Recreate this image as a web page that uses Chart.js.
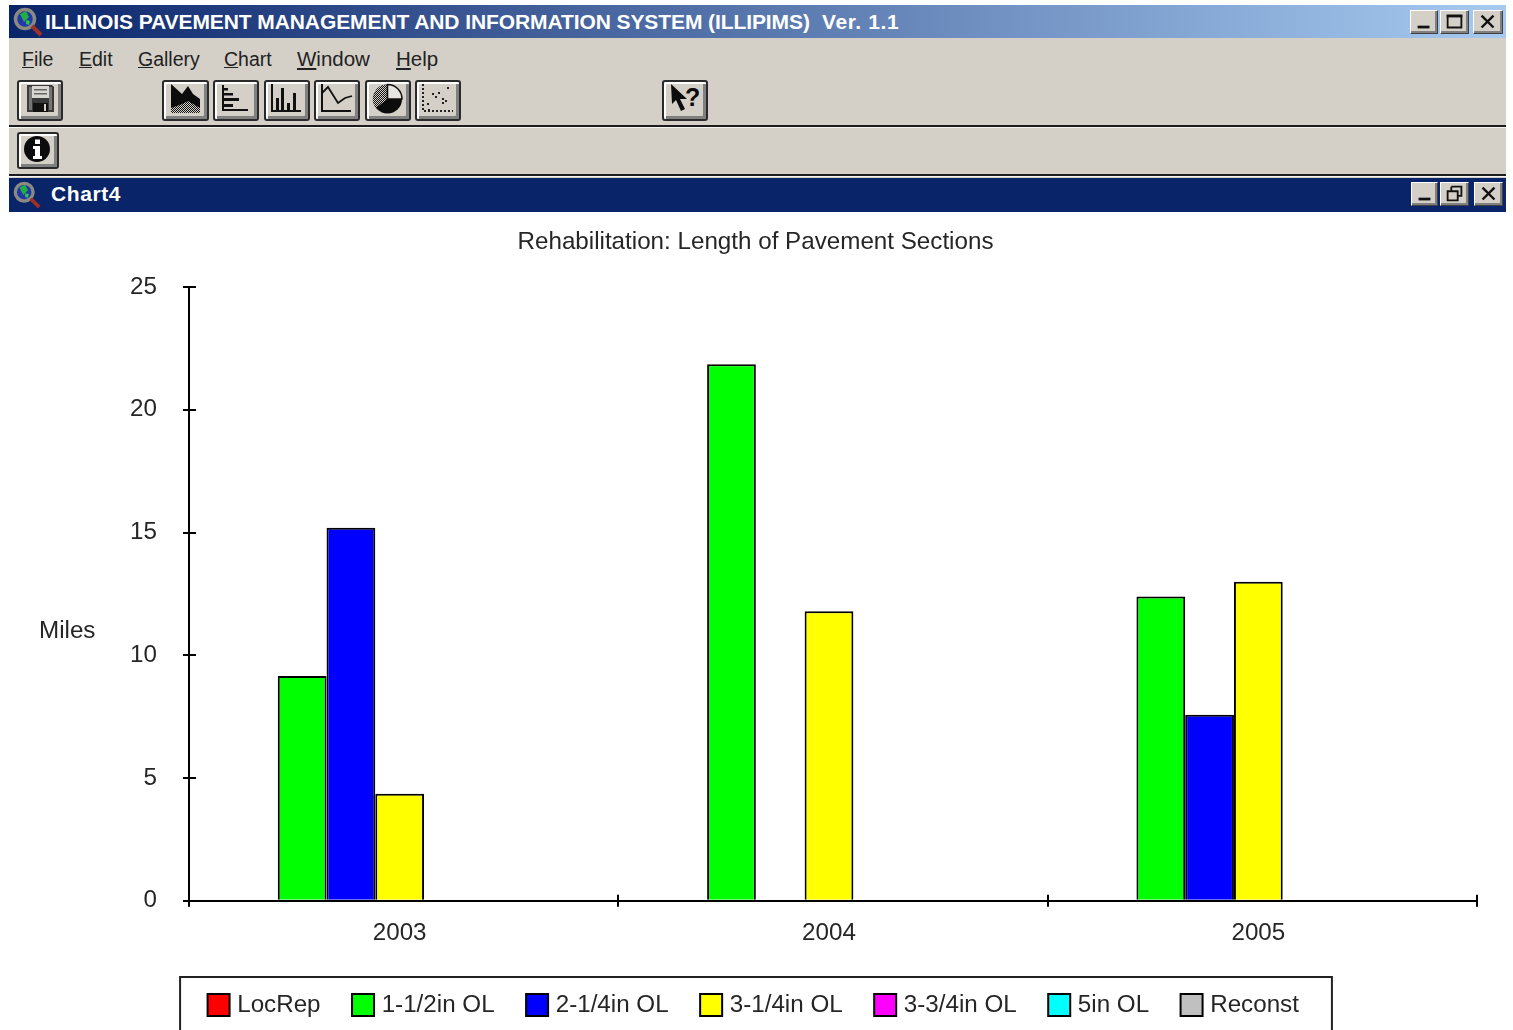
<!DOCTYPE html>
<html>
<head>
<meta charset="utf-8">
<title>ILLIPIMS Chart4</title>
<script src="https://cdn.jsdelivr.net/npm/chart.js@4"></script>
<style>
  html, body { margin: 0; padding: 0; background: #fff; width: 1513px; height: 1030px; overflow: hidden; }
  body { position: relative; font-family: "Liberation Sans", Arial, sans-serif; }
  .abs { position: absolute; }
  .titlebar { left: 9px; top: 5px; width: 1497px; height: 33px; background: linear-gradient(90deg, #0a246a 0%, #a6caf0 100%); }
  .chrome { left: 9px; top: 38px; width: 1497px; height: 140px; background: #d4d0c8; }
  .rule { left: 9px; width: 1497px; height: 2px; background: #1c1c1c; border-bottom: 1px solid #f4f3f0; }
  .childbar { left: 9px; top: 178px; width: 1497px; height: 34px; background: #0a246a; }
  .caption { color: #fff; font-weight: bold; white-space: nowrap; }
  .menu { top: 47px; font-size: 19.5px; color: #222; line-height: 24px; }
  .btn { box-sizing: border-box; background: #d4d0c8; border: 2px solid #2a2a2a; border-radius: 3px;
         box-shadow: inset 2px 2px 0 #fff, inset -3px -3px 0 #808080; }
  .wbtn { box-sizing: border-box; background: #d4d0c8; border: 1px solid #404040; border-top-color: #fff; border-left-color: #fff;
          box-shadow: inset -2px -2px 0 #808080; }
  svg { position: absolute; left: 0; top: 0; width: 100%; height: 100%; }
  #plotWrap { left: 9px; top: 212px; width: 1493px; height: 818px; }
</style>
</head>
<body>
<div class="abs titlebar"></div>
<div class="abs chrome"></div>
<div class="abs rule" style="top:125px"></div>
<div class="abs rule" style="top:174px"></div>
<div class="abs childbar"></div>

<!-- shared dither pattern for the toolbar glyphs -->
<svg width="0" height="0" style="width:0;height:0"><defs><pattern id="dither" width="2" height="2" patternUnits="userSpaceOnUse"><rect width="2" height="2" fill="#d4d0c8"/><rect width="1" height="1" fill="#111"/><rect x="1" y="1" width="1" height="1" fill="#111"/></pattern></defs></svg>

<!-- application icons -->
<svg class="abs" style="left:12px;top:7px;width:32px;height:30px" viewBox="0 0 32 30"><circle cx="13" cy="12" r="9.5" fill="#2038a8" stroke="#8a8a80" stroke-width="3.5"/><path d="M8 7l6-3 3 6-5 5z" fill="#20b040"/><path d="M14 13l4 1-1 4-3-1z" fill="#30c050"/><path d="M20 19l9 9" stroke="#a03028" stroke-width="4"/></svg>
<svg class="abs" style="left:12px;top:180px;width:30px;height:30px" viewBox="0 0 32 30"><circle cx="13" cy="12" r="9.5" fill="#2038a8" stroke="#8a8a80" stroke-width="3.5"/><path d="M8 7l6-3 3 6-5 5z" fill="#20b040"/><path d="M14 13l4 1-1 4-3-1z" fill="#30c050"/><path d="M20 19l9 9" stroke="#a03028" stroke-width="4"/></svg>

<div class="abs caption" style="left:45px;top:9px;font-size:21px;line-height:26px;letter-spacing:-0.09px">ILLINOIS PAVEMENT MANAGEMENT AND INFORMATION SYSTEM (ILLIPIMS)</div>
<div class="abs caption" style="left:822px;top:9px;font-size:21px;line-height:26px;letter-spacing:0.6px">Ver. 1.1</div>
<div class="abs caption" style="left:51px;top:181px;font-size:21px;line-height:26px;letter-spacing:0.6px">Chart4</div>

<div class="abs menu" style="left:22px"><u>F</u>ile</div>
<div class="abs menu" style="left:79px"><u>E</u>dit</div>
<div class="abs menu" style="left:138px"><u>G</u>allery</div>
<div class="abs menu" style="left:224px"><u>C</u>hart</div>
<div class="abs menu" style="left:297px;font-size:20.5px"><u>W</u>indow</div>
<div class="abs menu" style="left:396px;font-size:20.5px"><u>H</u>elp</div>

<!-- toolbar buttons -->
<div class="abs btn" style="left:17px;top:80px;width:46px;height:41px"><svg viewBox="0 0 42 37"><path d="M8 3h25l2 2v25H8z" fill="#3a3a3a"/><rect x="10" y="5" width="3" height="23" fill="#777"/><rect x="30" y="5" width="3" height="23" fill="#777"/><rect x="13" y="4" width="17" height="12" fill="#d8d6d0"/><rect x="15" y="7" width="13" height="1.5" fill="#666"/><rect x="15" y="11" width="13" height="1.5" fill="#666"/><rect x="14" y="21" width="15" height="9" fill="#111"/><rect x="25" y="22" width="2" height="7" fill="#d4d0c8"/></svg></div>
<div class="abs btn" style="left:162px;top:80px;width:47px;height:41px"><svg viewBox="0 0 43 37"><path d="M7 2l11 10 6-8 5 8 7 5v14H7z" fill="#0c0c0c"/><path d="M7 26l11-4 6-3 12 7v5H7z" fill="url(#dither)"/></svg></div>
<div class="abs btn" style="left:213px;top:80px;width:46px;height:41px"><svg viewBox="0 0 42 37"><path d="M8 3v25h25" fill="none" stroke="#111" stroke-width="2"/><g fill="#111"><rect x="8" y="6" width="5" height="2.5"/><rect x="8" y="11" width="10" height="2.5"/><rect x="8" y="16" width="16" height="3"/><rect x="8" y="22" width="10" height="3"/></g></svg></div>
<div class="abs btn" style="left:264px;top:80px;width:46px;height:41px"><svg viewBox="0 0 42 37"><path d="M6 2v27h29" fill="none" stroke="#111" stroke-width="2"/><g fill="#111"><rect x="10" y="16" width="3" height="13"/><rect x="15" y="6" width="3" height="23"/><rect x="21" y="21" width="3" height="8"/><rect x="27" y="11" width="3" height="18"/></g></svg></div>
<div class="abs btn" style="left:314px;top:80px;width:46px;height:41px"><svg viewBox="0 0 42 37"><path d="M6 2v27h29" fill="none" stroke="#111" stroke-width="2"/><path d="M6 11l6-6 10 16 7-5 7-2" fill="none" stroke="#111" stroke-width="1.8"/></svg></div>
<div class="abs btn" style="left:365px;top:80px;width:46px;height:41px"><svg viewBox="0 0 42 37"><circle cx="20.5" cy="17" r="14.5" fill="#0c0c0c"/><path d="M20.5 17V2.5A14.5 14.5 0 0 0 9 26z" fill="url(#dither)"/><path d="M20.5 17V2.5A14.5 14.5 0 0 1 35 17z" fill="#e8e6e0" stroke="#111" stroke-width="1.5"/></svg></div>
<div class="abs btn" style="left:415px;top:80px;width:46px;height:41px"><svg viewBox="0 0 42 37"><path d="M6 2v27h30" fill="none" stroke="#222" stroke-width="2" stroke-dasharray="2 2"/><g fill="#222"><rect x="21" y="10" width="2" height="2"/><rect x="30" y="5" width="2" height="2"/><rect x="15" y="11" width="2" height="2"/><rect x="18" y="14" width="2" height="2"/><rect x="25" y="16" width="2" height="2"/><rect x="28" y="18" width="2" height="2"/><rect x="25" y="20" width="2" height="2"/><rect x="10" y="21" width="2" height="2"/><rect x="11" y="27" width="2" height="2"/></g></svg></div>
<div class="abs btn" style="left:662px;top:80px;width:46px;height:41px"><svg viewBox="0 0 42 37"><path d="M7 2l1 20 4-4 5 11 4-2-5-10h7z" fill="#0c0c0c"/><text x="21" y="24" font-family="Liberation Sans" font-weight="bold" font-size="25" fill="#0c0c0c">?</text></svg></div>
<div class="abs btn" style="left:17px;top:132px;width:42px;height:37px"><svg viewBox="0 0 38 33"><circle cx="18" cy="15" r="13" fill="#0c0c0c"/><path d="M14 12h7v10h2v3h-9v-3h2v-7h-2z" fill="#fff"/><rect x="16" y="5.5" width="5" height="4.5" fill="#fff"/></svg></div>

<!-- window controls -->
<div class="abs wbtn" style="left:1410px;top:10px;width:28px;height:24px"><svg viewBox="0 0 28 24"><rect x="7" y="16" width="13" height="3" fill="#111"/></svg></div>
<div class="abs wbtn" style="left:1440px;top:10px;width:29px;height:24px"><svg viewBox="0 0 29 24"><path d="M7 5h15v13H7z" fill="none" stroke="#111" stroke-width="2"/><rect x="6" y="4" width="17" height="3" fill="#111"/></svg></div>
<div class="abs wbtn" style="left:1473px;top:10px;width:30px;height:24px"><svg viewBox="0 0 30 24"><path d="M8 5l13 13M21 5L8 18" stroke="#111" stroke-width="2.6"/></svg></div>
<div class="abs wbtn" style="left:1411px;top:182px;width:27px;height:24px"><svg viewBox="0 0 27 24"><rect x="7" y="16" width="13" height="3" fill="#111"/></svg></div>
<div class="abs wbtn" style="left:1440px;top:182px;width:29px;height:24px"><svg viewBox="0 0 29 24"><path d="M11 4h11v10h-4M11 4v4M7 9h11v10H7z" fill="none" stroke="#111" stroke-width="2"/></svg></div>
<div class="abs wbtn" style="left:1474px;top:182px;width:29px;height:24px"><svg viewBox="0 0 29 24"><path d="M8 5l13 13M21 5L8 18" stroke="#111" stroke-width="2.6"/></svg></div>

<div class="abs" id="plotWrap"><canvas id="chart" width="1493" height="818"></canvas></div>

<script>
// Miles of rehabilitated pavement by year and treatment type.
const years = ['2003', '2004', '2005'];
const locRep = [null, null, null];
const ol112 = [9.16, 21.85, 12.4];
const ol214 = [15.2, null, 7.58];
const ol314 = [4.36, 11.79, 13.0];
const ol334 = [null, null, null];
const ol5 = [null, null, null];
const reconst = [null, null, null];
const yTicks = [0, 5, 10, 15, 20, 25];
const titleText = 'Rehabilitation: Length of Pavement Sections';
const yAxisText = 'Miles';

const inkColor = '#262626';
const chartFont = { family: '"Liberation Sans", Arial, sans-serif', size: 24.2 };
// The year groups sit a few pixels left of the middle of their axis slots.
const groupShiftPx = 4;

const makeBars = (label, data, color) => ({
  label, data, backgroundColor: color, borderColor: '#000', borderWidth: 2,
  categoryPercentage: 0.795, barPercentage: 1
});

const axisExtras = {
  id: 'axisExtras',
  afterLayout(chart) {
    const x = chart.scales.x;
    x._startValue += groupShiftPx * years.length / (x.right - x.left);
  },
  // Ticks crossing both axes, the horizontal "Miles" caption and the legend frame.
  afterDraw(chart) {
    const { ctx, chartArea: area, scales: { x, y }, legend } = chart;
    ctx.save();
    ctx.strokeStyle = '#000';
    ctx.lineWidth = 2;
    ctx.beginPath();
    y.ticks.forEach(t => {
      const py = Math.round(y.getPixelForValue(t.value));
      ctx.moveTo(area.left, py);
      ctx.lineTo(area.left + 7, py);
    });
    const step = (x.right - x.left) / years.length;
    for (let i = 0; i <= years.length; i++) {
      const px = Math.round(x.left + i * step);
      ctx.moveTo(px, area.bottom - 6);
      ctx.lineTo(px, area.bottom + 6);
    }
    ctx.stroke();

    ctx.fillStyle = inkColor;
    ctx.font = `${chartFont.size}px ${chartFont.family}`;
    ctx.textAlign = 'left';
    ctx.textBaseline = 'middle';
    ctx.fillText(yAxisText, 30, 419);

    const first = legend.legendHitBoxes[0];
    const last = legend.legendHitBoxes[legend.legendHitBoxes.length - 1];
    ctx.strokeStyle = '#222';
    ctx.beginPath();
    ctx.moveTo(first.left - 32, 820);
    ctx.lineTo(first.left - 32, 765);
    ctx.lineTo(last.left + last.width + 33, 765);
    ctx.lineTo(last.left + last.width + 33, 820);
    ctx.stroke();
    ctx.restore();
  }
};

new Chart(document.getElementById('chart'), {
  type: 'bar',
  data: {
    labels: years,
    datasets: [
      makeBars('LocRep', locRep, '#ff0000'),
      makeBars('1-1/2in OL', ol112, '#00ff00'),
      makeBars('2-1/4in OL', ol214, '#0000ff'),
      makeBars('3-1/4in OL', ol314, '#ffff00'),
      makeBars('3-3/4in OL', ol334, '#ff00ff'),
      makeBars('5in OL', ol5, '#00ffff'),
      makeBars('Reconst', reconst, '#c0c0c0')
    ]
  },
  plugins: [axisExtras],
  options: {
    responsive: false,
    animation: false,
    layout: { padding: { left: 25, right: 25, top: 0, bottom: 3 } },
    plugins: {
      tooltip: { enabled: false },
      title: {
        display: true, text: titleText, color: inkColor, font: { ...chartFont, weight: 'normal' },
        padding: { top: 16, bottom: 30 }
      },
      legend: {
        display: true, position: 'bottom',
        onClick: null,
        labels: {
          usePointStyle: true, pointStyle: 'rect', boxWidth: 13, boxHeight: 22,
          padding: 36, color: inkColor, font: chartFont
        }
      }
    },
    scales: {
      x: {
        grid: { drawOnChartArea: false, drawTicks: false },
        border: { color: '#000', width: 2 },
        ticks: { color: inkColor, font: chartFont, padding: 18, maxRotation: 0 },
        afterFit(s) { s.height = 56; }
      },
      y: {
        min: 0, max: 25,
        grid: { drawOnChartArea: false, tickLength: 6, color: '#000', lineWidth: 2 },
        border: { color: '#000', width: 2 },
        afterBuildTicks(s) { s.ticks = yTicks.map(value => ({ value })); },
        ticks: { color: inkColor, font: chartFont, padding: 26 },
        afterFit(s) { s.width = 155; }
      }
    }
  }
});
</script>
</body>
</html>
